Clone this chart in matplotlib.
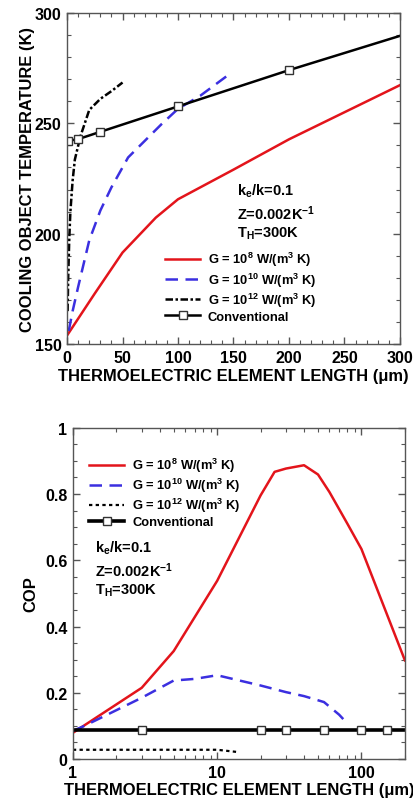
import numpy as np
import matplotlib
matplotlib.use("Agg")
import matplotlib.pyplot as plt
from matplotlib.ticker import MultipleLocator, FixedLocator, LogLocator, NullFormatter

plt.rcParams['font.family'] = ['Liberation Sans', 'DejaVu Sans']
plt.rcParams['font.weight'] = 'bold'
plt.rcParams['axes.labelweight'] = 'bold'
plt.rcParams['mathtext.fontset'] = 'custom'
plt.rcParams['mathtext.rm'] = 'Liberation Sans:bold'
plt.rcParams['mathtext.it'] = 'Liberation Sans:bold'
plt.rcParams['mathtext.bf'] = 'Liberation Sans:bold'

RED = '#e3141b'
BLUE = '#3b2fe0'

# ---- top panel: cooling object temperature vs length ----
x_g8 = [0, 25, 50, 80, 100, 150, 200, 300]
t_g8 = [154, 173, 191.5, 207.3, 215.6, 229, 242.7, 267.2]

x_g10 = [1.5, 5, 10, 20, 30, 40, 55, 70, 85, 100, 120, 145]
t_g10 = [156, 165, 176, 197, 210.5, 221, 234.5, 242, 249.5, 256.5, 262.4, 271.7]

x_g12 = [0.5, 1, 2, 3, 5, 7, 12, 20, 30, 40, 50]
t_g12 = [165, 180, 198, 210, 224, 233.5, 244, 256, 261, 264.5, 268.4]

x_conv = [0, 1, 10, 30, 100, 200, 300]
t_conv = [241.8, 242, 242.8, 246.1, 257.6, 274, 289.5]
x_conv_mk = [1, 10, 30, 100, 200]

# ---- bottom panel: COP vs length ----
l_g8 = [1, 3, 5, 10, 20, 25, 30, 40, 50, 60, 80, 100, 200]
cop_g8 = [0.079, 0.215, 0.326, 0.538, 0.796, 0.867, 0.877, 0.887, 0.859, 0.806, 0.71, 0.634, 0.298]

l_g10 = [1, 1.2, 3, 5, 7, 10, 20, 30, 40, 55, 70, 80]
cop_g10 = [0.085, 0.1, 0.185, 0.237, 0.242, 0.253, 0.222, 0.202, 0.19, 0.172, 0.134, 0.107]

l_g12 = [1, 5, 10, 14]
cop_g12 = [0.028, 0.028, 0.028, 0.021]

l_conv = [1, 3, 20, 30, 55, 100, 150, 200]
cop_conv = [0.089] * 8
l_conv_mk = [3, 20, 30, 55, 100, 150]

labels = ['G = 10$^8$ W/(m$^3$ K)', 'G = 10$^{10}$ W/(m$^3$ K)',
          'G = 10$^{12}$ W/(m$^3$ K)', 'Conventional']
note = 'k$_e$/k=0.1\nZ=0.002K$^{-1}$\nT$_H$=300K'

fig = plt.figure(figsize=(4.14, 8.03), dpi=100)
ax1 = fig.add_axes([0.162, 0.570, 0.804, 0.413])
ax2 = fig.add_axes([0.176, 0.0535, 0.802, 0.4125])

for ax in (ax1, ax2):
    ax.tick_params(which='both', direction='in', top=True, right=True, labelsize=11.5, pad=4)
    ax.tick_params(which='major', length=5, width=1, color='#555555')
    ax.tick_params(which='minor', length=3, width=0.8, color='#555555')
    for s in ax.spines.values():
        s.set_color('#555555')
        s.set_linewidth(1.0)

ax1.plot(x_g8, t_g8, color=RED, lw=1.8, label=labels[0])
ax1.plot(x_g10, t_g10, color=BLUE, lw=1.8, ls=(0, (5, 3)), label=labels[1])
ax1.plot(x_g12, t_g12, color='black', lw=1.8, ls=(0, (3, 1, 1, 1)), label=labels[2])
ax1.plot(x_conv, t_conv, color='black', lw=1.8)
ax1.plot(x_conv_mk, [np.interp(v, x_conv, t_conv) for v in x_conv_mk], ls='none', marker='s',
         ms=6, mfc='white', mec='#333333', mew=1.0)
ax1.plot([], [], color='black', lw=1.8, marker='s', ms=6, mfc='white', mec='#333333',
         label=labels[3])
ax1.set_xlim(0, 300)
ax1.set_ylim(150, 300)
ax1.xaxis.set_major_locator(MultipleLocator(50))
ax1.xaxis.set_minor_locator(MultipleLocator(10))
ax1.yaxis.set_major_locator(MultipleLocator(50))
ax1.yaxis.set_minor_locator(MultipleLocator(10))
for t in ax1.get_xticklabels() + ax1.get_yticklabels():
    t.set_fontweight('bold')
ax1.set_xlabel('THERMOELECTRIC ELEMENT LENGTH (\u03bcm)', fontsize=11.9, fontweight='bold', labelpad=2)
ax1.set_ylabel('COOLING OBJECT TEMPERATURE (K)', fontsize=11.9, fontweight='bold', labelpad=0)
ax1.text(0.51, 0.49, note, transform=ax1.transAxes, fontsize=10.5, fontweight='bold',
         va='top', linespacing=1.25)
ax1.legend(loc='lower left', bbox_to_anchor=(0.26, 0.03), frameon=False,
           prop={'size': 9.3, 'weight': 'bold'},
           handlelength=2.7, labelspacing=0.15, handletextpad=0.6)

ax2.plot(l_g8, cop_g8, color=RED, lw=1.8, label=labels[0])
ax2.plot(l_g10, cop_g10, color=BLUE, lw=1.8, ls=(0, (5, 3)), label=labels[1])
ax2.plot(l_g12, cop_g12, color='black', lw=1.6, ls=(0, (1.5, 1.5)), label=labels[2])
ax2.plot(l_conv, cop_conv, color='black', lw=2.6)
ax2.plot(l_conv_mk, [0.089] * len(l_conv_mk), ls='none', marker='s', ms=6,
         mfc='white', mec='#333333', mew=1.0)
ax2.plot([], [], color='black', lw=2.6, marker='s', ms=6, mfc='white', mec='#333333',
         label=labels[3])
ax2.set_xscale('log')
ax2.set_xlim(1, 200)
ax2.set_ylim(0, 1)
ax2.xaxis.set_major_locator(FixedLocator([1, 10, 100]))
ax2.xaxis.set_major_formatter(plt.FuncFormatter(lambda v, p: '%g' % v))
ax2.xaxis.set_minor_locator(LogLocator(base=10, subs=np.arange(2, 10)))
ax2.xaxis.set_minor_formatter(NullFormatter())
ax2.yaxis.set_major_locator(FixedLocator([0, 0.2, 0.4, 0.6, 0.8, 1]))
ax2.yaxis.set_major_formatter(plt.FuncFormatter(lambda v, p: '%g' % v))
ax2.yaxis.set_minor_locator(MultipleLocator(0.05))
for t in ax2.get_xticklabels() + ax2.get_yticklabels():
    t.set_fontweight('bold')
ax2.set_xlabel('THERMOELECTRIC ELEMENT LENGTH (\u03bcm)', fontsize=11.9, fontweight='bold', labelpad=2)
ax2.set_ylabel('COP', fontsize=11.9, fontweight='bold', labelpad=5)
ax2.text(0.066, 0.665, note, transform=ax2.transAxes, fontsize=10.5, fontweight='bold',
         va='top', linespacing=1.25)
ax2.legend(loc='upper left', bbox_to_anchor=(0.015, 0.95), frameon=False,
           prop={'size': 9.3, 'weight': 'bold'},
           handlelength=2.7, labelspacing=0.15, handletextpad=0.6)

fig.savefig('out.png', dpi=100)
